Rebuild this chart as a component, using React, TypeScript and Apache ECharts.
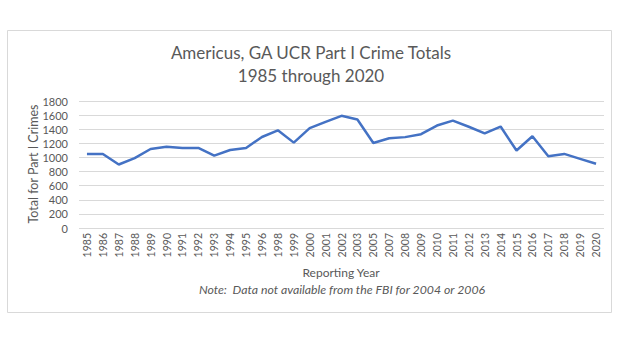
import React, { useEffect, useRef } from "react";
import * as echarts from "echarts";

const years = [
  "1985", "1986", "1987", "1988", "1989", "1990", "1991", "1992", "1993", "1994", "1995", "1996",
  "1998", "1999", "2000", "2001", "2002", "2003", "2005", "2007", "2008", "2009", "2010", "2011",
  "2012", "2013", "2014", "2015", "2016", "2017", "2018", "2019", "2020",
];
const totals = [
  1050, 1050, 900, 990, 1120, 1150, 1135, 1135, 1025, 1105, 1135, 1290,
  1385, 1210, 1415, 1505, 1590, 1538, 1205, 1272, 1288, 1330, 1452, 1522,
  1435, 1340, 1438, 1098, 1300, 1018, 1050, 980, 910,
];
const titleLines = ["Americus, GA UCR Part I Crime Totals", "1985 through 2020"];
const yTitle = "Total for Part I Crimes";
const xTitle = "Reporting Year";
const note = "Note:  Data not available from the FBI for 2004 or 2006";

const FONT = "Lato";
const GREY = "#595959";

export default function App() {
  const ref = useRef<HTMLDivElement>(null);
  useEffect(() => {
    if (!ref.current) return;
    const chart = echarts.init(ref.current, undefined, { renderer: "svg" });
    chart.setOption({
      animation: false,
      backgroundColor: "#ffffff",
      graphic: [
        {
          type: "rect",
          shape: { x: 7.5, y: 30.5, width: 604, height: 282 },
          style: { fill: "none", stroke: "#d9d9d9", lineWidth: 1 },
          silent: true,
        },
        {
          type: "text",
          x: 311,
          y: 52,
          style: {
            text: titleLines[0],
            fontFamily: FONT,
            fontSize: 17,
            fill: GREY,
            align: "center",
            verticalAlign: "middle",
          },
        },
        {
          type: "text",
          x: 311,
          y: 75,
          style: {
            text: titleLines[1],
            fontFamily: FONT,
            fontSize: 17,
            fill: GREY,
            align: "center",
            verticalAlign: "middle",
          },
        },
        {
          type: "text",
          x: 33,
          y: 164,
          rotation: Math.PI / 2,
          style: {
            text: yTitle,
            fontFamily: FONT,
            fontSize: 12.5,
            fill: GREY,
            align: "center",
            verticalAlign: "middle",
          },
        },
        {
          type: "text",
          x: 341,
          y: 272,
          style: {
            text: xTitle,
            fontFamily: FONT,
            fontSize: 12,
            fill: GREY,
            align: "center",
            verticalAlign: "middle",
          },
        },
        {
          type: "text",
          x: 342,
          y: 289,
          style: {
            text: note,
            fontFamily: FONT,
            fontSize: 12.3,
            fontStyle: "italic",
            fill: GREY,
            align: "center",
            verticalAlign: "middle",
          },
        },
      ],
      grid: { left: 79, right: 18, top: 101, bottom: 124, containLabel: false },
      xAxis: {
        type: "category",
        data: years,
        boundaryGap: true,
        axisLine: { show: false },
        axisTick: { show: false },
        axisLabel: {
          rotate: 90,
          interval: 0,
          fontFamily: FONT,
          fontSize: 10.5,
          color: GREY,
          margin: 5,
        },
      },
      yAxis: {
        type: "value",
        min: 0,
        max: 1800,
        interval: 200,
        axisLine: { show: false },
        axisTick: { show: false },
        splitLine: { lineStyle: { color: "#d9d9d9", width: 1 } },
        axisLabel: {
          fontFamily: FONT,
          fontSize: 11,
          color: GREY,
          margin: 11,
          formatter: (v: number) => String(v),
        },
      },
      series: [
        {
          type: "line",
          data: totals,
          symbol: "none",
          lineStyle: { color: "#4472C4", width: 2.5 },
          itemStyle: { color: "#4472C4" },
        },
      ],
    });
    return () => chart.dispose();
  }, []);
  return (
    <div
      ref={ref}
      style={{ position: "absolute", left: 0, top: 0, width: 622, height: 352 }}
    />
  );
}
